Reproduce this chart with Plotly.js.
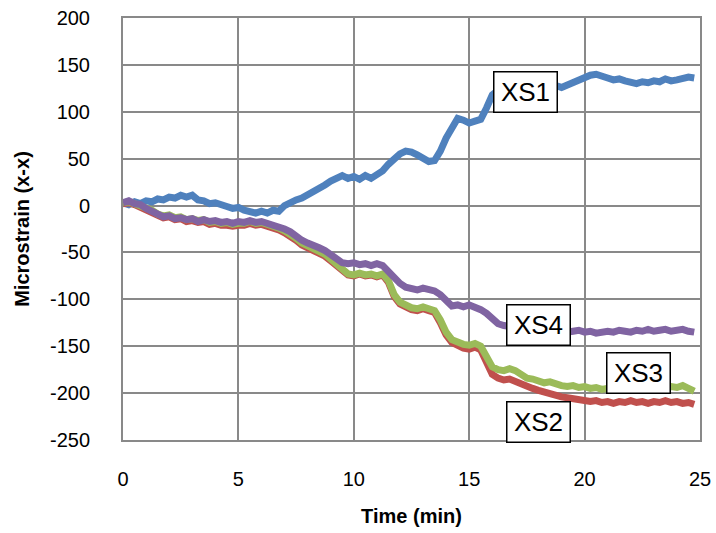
<!DOCTYPE html>
<html>
<head>
<meta charset="utf-8">
<script src="https://cdn.plot.ly/plotly-3.0.1.min.js"></script>
<style>html,body{margin:0;padding:0;background:#fff;}#chart{width:716px;height:533px;}</style>
</head>
<body>
<div id="chart"></div>
<script>
var time = [0,0.25,0.5,0.75,1,1.25,1.5,1.75,2,2.25,2.5,2.75,3,3.25,3.5,3.75,4,4.25,4.5,4.75,
5,5.25,5.5,5.75,6,6.25,6.5,6.75,7,7.25,7.5,7.75,8,8.25,8.5,8.75,9,9.25,9.5,9.75,
10,10.25,10.5,10.75,11,11.25,11.5,11.75,12,12.25,12.5,12.75,13,13.25,13.5,13.75,14,14.25,14.5,14.75,
15,15.25,15.5,15.75,16,16.25,16.5,16.75,17,17.25,17.5,17.75,18,18.25,18.5,18.75,19,19.25,19.5,19.75,
20,20.25,20.5,20.75,21,21.25,21.5,21.75,22,22.25,22.5,22.75,23,23.25,23.5,23.75,24,24.25,24.5,24.75];

var xs1 = [3,1,4,2,5,4,7,6,9,8,11,9,11,6,5,2,3,0,-1,-3,
-2,-5,-6,-8,-6,-8,-5,-6,0,4,6,8,11,15,18,22,26,30,32,29,
31,28,32,29,32,37,44,50,55,58,57,54,50,47,48,58,72,84,93,91,
88,90,92,104,118,123,124,125,124,126,125,127,126,128,127,128,126,129,131,133,
136,139,140,137,136,134,135,133,132,130,132,131,133,132,135,133,134,136,137,136];

var xs2 = [2,3,1,-2,-5,-8,-12,-13,-12,-15,-14,-17,-16,-18,-17,-20,-19,-21,-21,-22,
-21,-21,-19,-21,-20,-22,-23,-26,-29,-32,-37,-42,-45,-47,-50,-54,-59,-64,-69,-74,
-75,-73,-75,-74,-76,-74,-82,-97,-105,-109,-111,-112,-110,-112,-114,-125,-138,-146,-150,-152,
-153,-151,-154,-168,-180,-184,-186,-185,-188,-191,-193,-195,-197,-199,-200,-202,-204,-205,-206,-207,
-208,-209,-208,-210,-209,-211,-209,-210,-208,-210,-209,-211,-209,-210,-208,-210,-209,-211,-210,-212];

var xs3 = [3,4,2,0,-3,-5,-9,-11,-10,-13,-12,-15,-14,-16,-15,-18,-17,-19,-18,-20,
-19,-19,-17,-19,-18,-20,-21,-24,-27,-30,-35,-40,-43,-45,-48,-52,-57,-62,-68,-73,
-74,-72,-74,-73,-75,-73,-80,-95,-103,-107,-109,-110,-108,-110,-112,-122,-135,-143,-146,-148,
-149,-147,-150,-162,-172,-175,-176,-174,-176,-180,-184,-185,-187,-189,-188,-191,-192,-193,-192,-194,
-193,-195,-194,-196,-195,-196,-194,-196,-195,-197,-195,-196,-194,-196,-195,-193,-194,-192,-195,-198];

var xs4 = [3,5,2,1,-3,-6,-10,-12,-11,-14,-13,-15,-14,-17,-15,-17,-16,-18,-17,-19,
-17,-18,-16,-18,-17,-19,-20,-22,-25,-28,-33,-37,-40,-42,-45,-48,-52,-57,-61,-62,
-61,-63,-62,-64,-62,-64,-70,-78,-83,-87,-88,-90,-88,-90,-91,-95,-102,-107,-106,-108,
-106,-108,-111,-115,-121,-126,-128,-129,-130,-131,-131,-132,-132,-133,-132,-134,-133,-135,-134,-133,
-135,-134,-136,-135,-134,-135,-133,-134,-135,-133,-134,-132,-134,-133,-132,-134,-133,-132,-134,-135];

var seriesNames = ["XS1","XS2","XS3","XS4"];
var seriesColors = ["#4F81BD","#C0504D","#9BBB59","#8064A2"];
var seriesData = [xs1, xs2, xs3, xs4];

var labelX = [17.46, 18.02, 22.34, 18.02];
var labelY = [121, -231, -179, -127];

var yTickVals = [200,150,100,50,0,-50,-100,-150,-200,-250];
var yTickText = ["200","150","100","50","0","-50","-100","-150","-200","-250"];
var xTickVals = [0,5,10,15,20,25];
var xTickText = ["0","5","10","15","20","25"];

var FONT = "'Liberation Sans', Arial, sans-serif";

var traces = seriesData.map(function(d, i){
  return {x: time, y: d, type: 'scatter', mode: 'lines', name: seriesNames[i],
          line: {color: seriesColors[i], width: 7, shape: 'linear'}};
});

var annotations = seriesNames.map(function(n, i){
  return {x: labelX[i], y: labelY[i], xref: 'x', yref: 'y', text: n, showarrow: false,
          font: {family: FONT, size: 26, color: '#000'}, bgcolor: '#fff',
          bordercolor: '#000', borderwidth: 1.5, borderpad: 1, width: 60, height: 37};
});

var layout = {
  width: 716, height: 533,
  margin: {l: 123, r: 16, t: 18, b: 93},
  paper_bgcolor: '#fff', plot_bgcolor: '#fff',
  showlegend: false,
  font: {family: FONT, size: 20, color: '#000'},
  xaxis: {range: [0, 25], tickmode: 'array', tickvals: xTickVals, ticktext: xTickText,
          showgrid: true, gridcolor: '#898989', gridwidth: 2,
          showline: true, linecolor: '#898989', linewidth: 2, mirror: true, zeroline: false,
          ticks: '', ticklabelstandoff: 20,
          tickfont: {family: FONT, size: 20, color: '#000'},
          title: {text: 'Time (min)', font: {family: FONT, size: 20, color: '#000', weight: 'bold'}, standoff: 20}},
  yaxis: {range: [-250, 200], tickmode: 'array', tickvals: yTickVals, ticktext: yTickText,
          showgrid: true, gridcolor: '#898989', gridwidth: 2,
          showline: true, linecolor: '#898989', linewidth: 2, mirror: true, zeroline: false,
          ticks: '', ticklabelstandoff: 27,
          tickfont: {family: FONT, size: 20, color: '#000'},
          title: {text: 'Microstrain (x-x)', font: {family: FONT, size: 20, color: '#000', weight: 'bold'}, standoff: 15}},
  annotations: annotations
};

Plotly.newPlot('chart', traces, layout, {staticPlot: true, displayModeBar: false});
</script>
</body>
</html>
